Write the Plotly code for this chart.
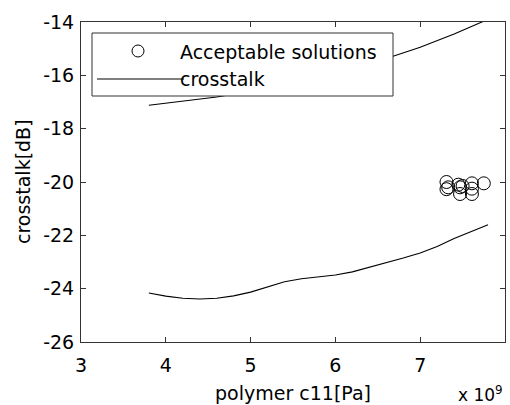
import plotly.graph_objects as go

# polymer c11 in units of 1e9 Pa
c11_lower = [3.8, 4.0, 4.2, 4.4, 4.6, 4.8, 5.0, 5.2, 5.4, 5.6, 5.8, 6.0, 6.2, 6.4,
             6.6, 6.8, 7.0, 7.2, 7.4, 7.6, 7.8]
xt_lower = [-24.16, -24.28, -24.36, -24.39, -24.36, -24.27, -24.13, -23.93, -23.74,
            -23.63, -23.56, -23.49, -23.37, -23.20, -23.02, -22.85, -22.66, -22.42,
            -22.12, -21.86, -21.60]

c11_upper = [3.8, 4.2, 4.6, 5.0, 5.4, 5.8, 6.2, 6.6, 7.0, 7.4, 7.8]
xt_upper = [-17.12, -16.97, -16.81, -16.60, -16.35, -16.05, -15.72, -15.37, -14.95,
            -14.45, -13.90]

sol_c11 = [7.31, 7.31, 7.33, 7.45, 7.47, 7.47, 7.50, 7.61, 7.61, 7.61, 7.75]
sol_xt = [-20.00, -20.27, -20.20, -20.10, -20.20, -20.45, -20.15, -20.05, -20.25,
          -20.45, -20.05]

x_ticks = [3, 4, 5, 6, 7, 8]
y_ticks = [-26, -24, -22, -20, -18, -16, -14]

FONT = "DejaVu Sans, Arial, sans-serif"
FS = 19

# plot area in pixels
L, R, T, B = 81, 505, 22, 342
W, H = R - L, B - T


def px(x):
    return (x - L) / W


def py(y):
    return (B - y) / H


fig = go.Figure()
fig.add_trace(go.Scatter(x=c11_lower, y=xt_lower, mode="lines",
                         line=dict(color="black", width=1.1), name="crosstalk"))
fig.add_trace(go.Scatter(x=c11_upper, y=xt_upper, mode="lines",
                         line=dict(color="black", width=1.1), showlegend=False))
fig.add_trace(go.Scatter(x=sol_c11, y=sol_xt, mode="markers",
                         marker=dict(symbol="circle-open", size=13, color="black",
                                     line=dict(width=1)),
                         name="Acceptable solutions"))

axis_common = dict(showline=True, linecolor="#333", linewidth=1, mirror="ticks",
                   ticks="inside", ticklen=5, tickcolor="#333", showgrid=False,
                   zeroline=False, automargin=False,
                   tickfont=dict(family=FONT, size=FS, color="black"))

fig.update_xaxes(range=[3, 8], tickvals=x_ticks, ticklabelstandoff=6, **axis_common)
fig.update_yaxes(range=[-26, -14], tickvals=y_ticks,
                 ticktext=[str(v) for v in y_ticks], ticklabelstandoff=2,
                 **axis_common)

# axis titles
fig.add_annotation(text="polymer c11[Pa]", xref="paper", yref="paper",
                   x=0.5, y=py(393), xanchor="center", yanchor="middle",
                   showarrow=False, font=dict(family=FONT, size=FS, color="black"))
fig.add_annotation(text="crosstalk[dB]", xref="paper", yref="paper",
                   x=px(23), y=0.5, xanchor="center", yanchor="middle",
                   textangle=-90, showarrow=False,
                   font=dict(family=FONT, size=FS, color="black"))

# legend box drawn on top of the curves
fig.add_shape(type="rect", xref="paper", yref="paper",
              x0=px(92), x1=px(393), y0=py(96), y1=py(33),
              line=dict(color="#333", width=1), fillcolor="white", layer="above")
fig.add_shape(type="line", xref="paper", yref="paper",
              x0=px(97), x1=px(184), y0=py(79), y1=py(79),
              line=dict(color="black", width=1.1), layer="above")
fig.add_shape(type="circle", xref="paper", yref="paper",
              x0=px(132), x1=px(144), y0=py(57), y1=py(45),
              line=dict(color="black", width=1), layer="above")
fig.add_annotation(text="Acceptable solutions", xref="paper", yref="paper",
                   x=px(178), y=py(52), xanchor="left", yanchor="middle",
                   showarrow=False, font=dict(family=FONT, size=FS, color="black"))
fig.add_annotation(text="crosstalk", xref="paper", yref="paper",
                   x=px(178), y=py(79), xanchor="left", yanchor="middle",
                   showarrow=False, font=dict(family=FONT, size=FS, color="black"))

# exponent label for the x axis
fig.add_annotation(text="x 10<sup>9</sup>", xref="paper", yref="paper",
                   x=1.0, y=py(394), xanchor="right", yanchor="middle",
                   showarrow=False, font=dict(family=FONT, size=17, color="black"))

fig.update_layout(width=510, height=405, showlegend=False,
                  margin=dict(l=L, r=510 - R, t=T, b=405 - B),
                  paper_bgcolor="white", plot_bgcolor="white")

fig.write_html("out.html")
